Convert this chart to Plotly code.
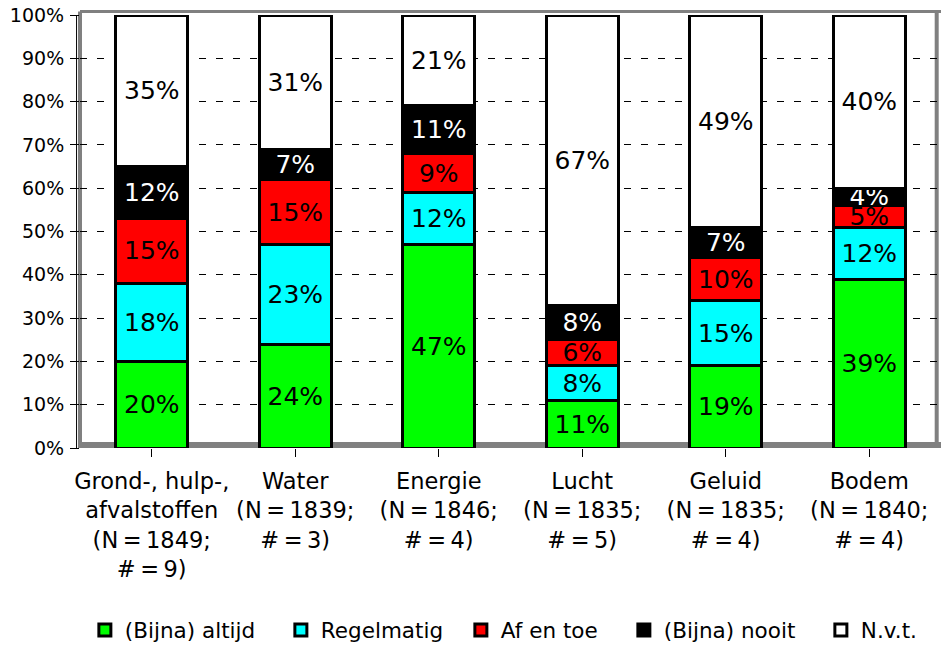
import plotly.graph_objects as go

categories = [
    "Grond-, hulp-,<br>afvalstoffen<br>(N\u2009=\u20091849;<br>#\u2009=\u20099)",
    "Water<br>(N\u2009=\u20091839;<br>#\u2009=\u20093)",
    "Energie<br>(N\u2009=\u20091846;<br>#\u2009=\u20094)",
    "Lucht<br>(N\u2009=\u20091835;<br>#\u2009=\u20095)",
    "Geluid<br>(N\u2009=\u20091835;<br>#\u2009=\u20094)",
    "Bodem<br>(N\u2009=\u20091840;<br>#\u2009=\u20094)",
]
series_names = ["(Bijna) altijd", "Regelmatig", "Af en toe", "(Bijna) nooit", "N.v.t."]
altijd = [20, 24, 47, 11, 19, 39]
regelmatig = [18, 23, 12, 8, 15, 12]
af_en_toe = [15, 15, 9, 6, 10, 5]
nooit = [12, 7, 11, 8, 7, 4]
nvt = [35, 31, 21, 67, 49, 40]
series_values = [altijd, regelmatig, af_en_toe, nooit, nvt]
colors = ["#00FF00", "#00FFFF", "#FF0000", "#000000", "#FFFFFF"]
text_colors = ["black", "black", "black", "white", "black"]
legend_widths = [151, 135, 118, 152, 80]

FONT = "DejaVu Sans"
x_idx = list(range(len(categories)))

fig = go.Figure()
for name, vals, col, tcol, lw in zip(series_names, series_values, colors, text_colors, legend_widths):
    fig.add_trace(go.Bar(
        x=x_idx, y=vals, name=name,
        marker=dict(color=col, line=dict(color="black", width=3)),
        text=vals, texttemplate="%{text}%", textposition="inside",
        insidetextanchor="middle", textangle=0,
        textfont=dict(family=FONT, size=25, color=tcol),
        legendwidth=lw,
    ))

fig.update_layout(
    barmode="stack", bargap=0.5,
    width=943, height=645,
    margin=dict(l=80, r=2, t=15, b=197),
    paper_bgcolor="white", plot_bgcolor="white",
    font=dict(family=FONT, size=20, color="black"),
    uniformtext=dict(minsize=25, mode="show"),
    showlegend=True,
    legend=dict(orientation="h", xref="container", yref="container",
                x=0.09, y=15 / 645, xanchor="left", yanchor="middle",
                font=dict(family=FONT, size=21.5), traceorder="normal"),
    xaxis=dict(tickmode="array", tickvals=x_idx, ticktext=categories,
               range=[-0.5, 5.5], ticks="outside", tickson="boundaries",
               ticklen=8, tickcolor="black", showgrid=False,
               showline=False, ticklabelstandoff=5,
               tickfont=dict(family=FONT, size=22.5)),
    yaxis=dict(range=[0, 100], dtick=10, ticksuffix="%", ticks="outside",
               ticklen=9, tickcolor="black", showgrid=True,
               gridcolor="black", griddash="7px,10px", gridwidth=1,
               showline=False, zeroline=False, ticklabelstandoff=2,
               tickfont=dict(family=FONT, size=19)),
)

# grey walls (3D frame)
fig.add_shape(type="line", xref="paper", yref="paper", x0=0, x1=0, y0=0, y1=1.008,
              line=dict(color="#808080", width=4), layer="below")
fig.add_shape(type="line", xref="paper", yref="paper", x0=0, x1=1, y0=1.008, y1=1.008,
              line=dict(color="#808080", width=3), layer="below")
fig.add_shape(type="line", xref="paper", yref="paper", x0=0.995, x1=0.995, y0=0, y1=1.008,
              line=dict(color="#808080", width=4), layer="below")
fig.add_shape(type="rect", xref="paper", yref="paper", x0=0, x1=1, y0=0, y1=0.014,
              fillcolor="#808080", line=dict(width=0), layer="below")
fig.add_shape(type="line", xref="paper", yref="paper", x0=-0.004, x1=-0.004, y0=0, y1=1,
              line=dict(color="black", width=1), layer="above")

fig.write_html("out.html", config={"displayModeBar": False},
               post_script="document.body.style.margin='0';document.body.style.overflow='hidden';")
